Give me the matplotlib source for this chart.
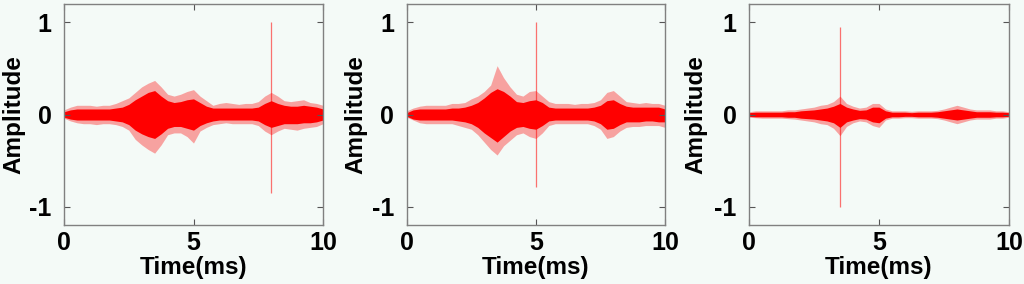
import numpy as np
import matplotlib
matplotlib.use("Agg")
import matplotlib.pyplot as plt

# Time grid (ms) at which the envelopes were read
time_ms = np.arange(0, 10.01, 0.25)

# Panel 1 envelopes (outer peaks and dense core)
p1_peak_hi = [0.05, 0.08, 0.10, 0.10, 0.10, 0.09, 0.10, 0.10, 0.12, 0.15, 0.18, 0.24, 0.30, 0.34, 0.37, 0.30,
              0.22, 0.20, 0.22, 0.25, 0.27, 0.20, 0.15, 0.10, 0.12, 0.13, 0.12, 0.11, 0.12, 0.12, 0.14, 0.20,
              0.24, 0.20, 0.15, 0.14, 0.15, 0.16, 0.13, 0.12, 0.10]
p1_peak_lo = [-0.04, -0.07, -0.09, -0.10, -0.10, -0.11, -0.10, -0.10, -0.11, -0.13, -0.17, -0.27, -0.33, -0.38,
              -0.42, -0.33, -0.22, -0.20, -0.20, -0.24, -0.31, -0.18, -0.14, -0.11, -0.10, -0.09, -0.10, -0.10,
              -0.10, -0.10, -0.12, -0.18, -0.22, -0.18, -0.15, -0.16, -0.17, -0.15, -0.14, -0.13, -0.10]
p1_core_hi = [0.03, 0.05, 0.06, 0.06, 0.06, 0.06, 0.06, 0.06, 0.07, 0.08, 0.11, 0.16, 0.20, 0.24, 0.26, 0.20,
              0.15, 0.13, 0.14, 0.16, 0.17, 0.13, 0.09, 0.07, 0.07, 0.07, 0.07, 0.07, 0.07, 0.07, 0.08, 0.12,
              0.15, 0.12, 0.10, 0.09, 0.09, 0.10, 0.09, 0.08, 0.06]
p1_core_lo = [-0.03, -0.05, -0.06, -0.06, -0.06, -0.06, -0.06, -0.06, -0.07, -0.08, -0.11, -0.17, -0.21, -0.24,
              -0.26, -0.21, -0.15, -0.13, -0.13, -0.15, -0.17, -0.12, -0.09, -0.07, -0.06, -0.06, -0.06, -0.06,
              -0.06, -0.06, -0.07, -0.11, -0.14, -0.12, -0.10, -0.10, -0.10, -0.09, -0.09, -0.08, -0.06]
p1_spike = (8.0, 1.0, -0.85)

# Panel 2 envelopes
p2_peak_hi = [0.04, 0.07, 0.09, 0.10, 0.10, 0.10, 0.10, 0.12, 0.12, 0.13, 0.17, 0.20, 0.25, 0.32, 0.53, 0.40,
              0.30, 0.22, 0.20, 0.25, 0.26, 0.20, 0.14, 0.12, 0.12, 0.12, 0.11, 0.12, 0.12, 0.13, 0.16, 0.24,
              0.26, 0.20, 0.14, 0.13, 0.12, 0.13, 0.12, 0.12, 0.10]
p2_peak_lo = [-0.03, -0.06, -0.09, -0.10, -0.10, -0.10, -0.10, -0.10, -0.12, -0.14, -0.16, -0.22, -0.30, -0.38,
              -0.44, -0.34, -0.28, -0.22, -0.20, -0.24, -0.26, -0.20, -0.12, -0.10, -0.10, -0.10, -0.10, -0.10,
              -0.10, -0.12, -0.16, -0.26, -0.24, -0.18, -0.14, -0.13, -0.13, -0.12, -0.12, -0.12, -0.14]
p2_core_hi = [0.02, 0.05, 0.06, 0.06, 0.06, 0.06, 0.06, 0.07, 0.07, 0.08, 0.10, 0.13, 0.18, 0.24, 0.28, 0.25,
              0.20, 0.14, 0.13, 0.15, 0.16, 0.13, 0.08, 0.07, 0.07, 0.07, 0.07, 0.07, 0.07, 0.08, 0.10, 0.15,
              0.16, 0.12, 0.09, 0.08, 0.08, 0.08, 0.08, 0.08, 0.06]
p2_core_lo = [-0.02, -0.05, -0.06, -0.06, -0.06, -0.06, -0.06, -0.06, -0.07, -0.08, -0.10, -0.14, -0.20, -0.25,
              -0.30, -0.24, -0.18, -0.14, -0.13, -0.15, -0.16, -0.12, -0.07, -0.06, -0.06, -0.06, -0.06, -0.06,
              -0.06, -0.07, -0.10, -0.16, -0.15, -0.11, -0.08, -0.08, -0.08, -0.07, -0.07, -0.08, -0.08]
p2_spike = (5.0, 1.0, -0.79)

# Panel 3 envelopes
p3_peak_hi = [0.03, 0.04, 0.04, 0.04, 0.04, 0.04, 0.05, 0.05, 0.06, 0.07, 0.08, 0.10, 0.11, 0.14, 0.20, 0.12,
              0.09, 0.07, 0.08, 0.12, 0.12, 0.06, 0.04, 0.04, 0.04, 0.035, 0.04, 0.04, 0.04, 0.045, 0.06, 0.08,
              0.10, 0.08, 0.06, 0.05, 0.05, 0.05, 0.04, 0.04, 0.03]
p3_peak_lo = [-0.03, -0.035, -0.04, -0.04, -0.04, -0.04, -0.045, -0.05, -0.06, -0.07, -0.08, -0.10, -0.11, -0.15,
              -0.23, -0.13, -0.09, -0.07, -0.08, -0.12, -0.14, -0.06, -0.04, -0.04, -0.035, -0.035, -0.04, -0.04,
              -0.04, -0.045, -0.06, -0.08, -0.10, -0.08, -0.06, -0.05, -0.05, -0.05, -0.04, -0.04, -0.03]
p3_core_hi = [0.02, 0.025, 0.025, 0.025, 0.025, 0.025, 0.03, 0.03, 0.04, 0.045, 0.05, 0.06, 0.07, 0.09, 0.12,
              0.08, 0.06, 0.045, 0.05, 0.08, 0.08, 0.04, 0.025, 0.025, 0.025, 0.02, 0.025, 0.025, 0.025, 0.03,
              0.04, 0.05, 0.06, 0.05, 0.04, 0.03, 0.03, 0.03, 0.025, 0.025, 0.02]
p3_core_lo = [-0.02, -0.025, -0.025, -0.025, -0.025, -0.025, -0.03, -0.03, -0.04, -0.045, -0.05, -0.06, -0.07,
              -0.09, -0.14, -0.08, -0.06, -0.045, -0.05, -0.08, -0.09, -0.04, -0.025, -0.025, -0.02, -0.02,
              -0.025, -0.025, -0.025, -0.03, -0.04, -0.05, -0.06, -0.05, -0.04, -0.03, -0.03, -0.03, -0.025,
              -0.025, -0.02]
p3_spike = (3.5, 0.95, -1.0)

x_ticks = [0, 5, 10]
y_ticks = [-1, 0, 1]
y_tick_labels = ["-1", "0", "1"]
x_label = "Time(ms)"
y_label = "Amplitude"

BG = "#f4faf7"
plt.rcParams['font.family'] = ['Liberation Sans', 'DejaVu Sans']

W, H = 1024, 284
fig = plt.figure(figsize=(W / 100, H / 100), dpi=100, facecolor=BG)
# (left px, right px, ylabel centre px)
boxes = [(64, 323, 14), (406.7, 665, 356), (749, 1009, 696)]
top_px, bottom_px = 4, 225
panels = [
    (p1_peak_hi, p1_peak_lo, p1_core_hi, p1_core_lo, p1_spike),
    (p2_peak_hi, p2_peak_lo, p2_core_hi, p2_core_lo, p2_spike),
    (p3_peak_hi, p3_peak_lo, p3_core_hi, p3_core_lo, p3_spike),
]

for (lpx, rpx, ylab_px), (phi, plo, chi, clo, spike) in zip(boxes, panels):
    wpx = rpx - lpx
    hpx = bottom_px - top_px
    ax = fig.add_axes([lpx / W, 1 - bottom_px / H, wpx / W, hpx / H])
    ax.set_facecolor(BG)
    ax.fill_between(time_ms, plo, phi, color="#ff0000", alpha=0.35, lw=0)
    ax.fill_between(time_ms, clo, chi, color="#ff0000", alpha=1.0, lw=0)
    ax.vlines(spike[0], spike[2], spike[1], color="#ff0000", alpha=0.55, lw=0.9)
    ax.set_xlim(0, 10)
    ax.set_ylim(-1.2, 1.2)
    ax.set_xticks(x_ticks)
    ax.set_yticks(y_ticks)
    ax.set_yticklabels(y_tick_labels)
    ax.tick_params(direction="in", top=True, right=True, length=4, width=0.8, color="#555555",
                   labelsize=18)
    ax.tick_params(axis="y", pad=9)
    ax.tick_params(axis="x", pad=4)
    for lbl in ax.get_xticklabels() + ax.get_yticklabels():
        lbl.set_fontweight("bold")
    for s in ax.spines.values():
        s.set_color("#808080")
        s.set_linewidth(1.0)
    ax.set_xlabel(x_label, fontsize=17.5, fontweight="bold")
    ax.xaxis.set_label_coords(0.5, (bottom_px - 256) / hpx)
    ax.set_ylabel(y_label, fontsize=17.5, fontweight="bold", va="center")
    ax.yaxis.set_label_coords((ylab_px - lpx) / wpx, 0.5)

fig.savefig("out.png", dpi=100, facecolor=BG)
